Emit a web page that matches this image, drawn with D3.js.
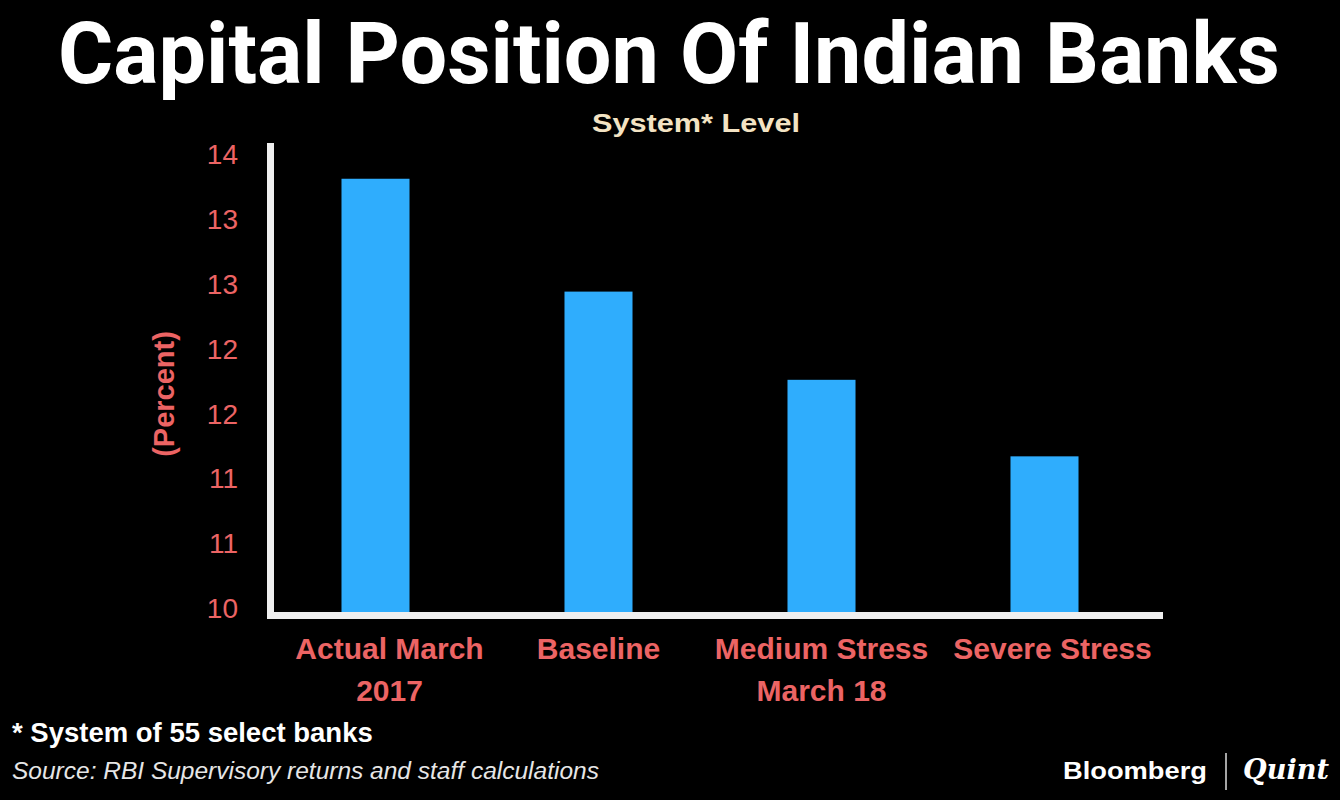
<!DOCTYPE html>
<html>
<head>
<meta charset="utf-8">
<script src="https://cdn.jsdelivr.net/npm/d3@7"></script>
<style>
  html, body { margin: 0; padding: 0; background: #000; }
  svg { display: block; }
</style>
</head>
<body>
<svg id="chart" width="1340" height="800"></svg>
<script>
// ---- Data ----
const categories = ["Actual March 2017", "Baseline", "Medium Stress March 18", "Severe Stress"];
const categoryLines = [["Actual March", "2017"], ["Baseline"], ["Medium Stress", "March 18"], ["Severe Stress"]];
const values = [13.34, 12.47, 11.79, 11.2];
const tickValues = [10, 10.5, 11, 11.5, 12, 12.5, 13, 13.5];
const tickLabels = ["10", "11", "11", "12", "12", "13", "13", "14"];

const titleText = "Capital Position Of Indian Banks";
const subtitleText = "System* Level";
const yTitle = "(Percent)";
const footnote = "* System of 55 select banks";
const sourceText = "Source: RBI Supervisory returns and staff calculations";

// ---- Chart ----
const svg = d3.select("#chart");
const W = 1340, H = 800;
svg.append("rect").attr("width", W).attr("height", H).attr("fill", "#000");

const x = d3.scaleBand().domain(categories).range([264, 1156])
  .paddingInner(0.695).paddingOuter(0.3475);
const y = d3.scaleLinear().domain([10, 13.5]).range([612, 158]);

// Title
svg.append("text")
  .attr("x", 58).attr("y", 83)
  .attr("textLength", 1222).attr("lengthAdjust", "spacingAndGlyphs")
  .attr("font-family", "Roboto, 'Liberation Sans', sans-serif")
  .attr("font-weight", 700).attr("font-size", 86)
  .attr("fill", "#fff").text(titleText);

// Subtitle
svg.append("text")
  .attr("x", 592).attr("y", 132)
  .attr("textLength", 208).attr("lengthAdjust", "spacingAndGlyphs")
  .attr("font-family", "'Liberation Sans', Arial, sans-serif")
  .attr("font-weight", 700).attr("font-size", 26)
  .attr("fill", "#f3e3c3").text(subtitleText);

// Bars
svg.append("g").selectAll("rect").data(values).join("rect")
  .attr("x", (d, i) => x(categories[i]))
  .attr("width", x.bandwidth())
  .attr("y", d => y(d))
  .attr("height", d => y(10) - y(d))
  .attr("fill", "#2fadfd");

// Y axis (labels only)
const yAxis = d3.axisLeft(y).tickValues(tickValues)
  .tickFormat((d, i) => tickLabels[i]).tickSize(0).tickPadding(0);
const gy = svg.append("g").attr("transform", "translate(238,0)").call(yAxis);
gy.select(".domain").remove();
gy.selectAll("text")
  .attr("font-family", "'Liberation Sans', Arial, sans-serif")
  .attr("font-size", 28).attr("fill", "#ec6464").attr("dy", "0.2em");

// Axis lines
svg.append("line")
  .attr("x1", 270.5).attr("x2", 270.5).attr("y1", 143).attr("y2", 619)
  .attr("stroke", "#efefef").attr("stroke-width", 7);
svg.append("line")
  .attr("x1", 267).attr("x2", 1163).attr("y1", y(10) + 3.5).attr("y2", y(10) + 3.5)
  .attr("stroke", "#efefef").attr("stroke-width", 7);

// X labels
const xl = svg.append("g").selectAll("text").data(categories).join("text")
  .attr("x", d => x(d) + x.bandwidth() / 2)
  .attr("y", 659)
  .attr("text-anchor", "middle")
  .attr("font-family", "'Liberation Sans', Arial, sans-serif")
  .attr("font-weight", 700).attr("font-size", 30)
  .attr("fill", "#ec6464");
xl.each(function(d, i) {
  const t = d3.select(this);
  categoryLines[i].forEach((line, j) => {
    t.append("tspan").attr("x", x(d) + x.bandwidth() / 2 + (i === 0 ? 14 : i === 3 ? 8 : 0))
      .attr("dy", j === 0 ? 0 : 42).text(line);
  });
});

// Y title
svg.append("text")
  .attr("transform", "translate(174,394) rotate(-90)")
  .attr("text-anchor", "middle")
  .attr("font-family", "'Liberation Sans', Arial, sans-serif")
  .attr("font-weight", 700).attr("font-size", 29)
  .attr("fill", "#ec6464").text(yTitle);

// Footnotes
svg.append("text").attr("x", 12).attr("y", 742)
  .attr("font-family", "'Liberation Sans', Arial, sans-serif")
  .attr("font-weight", 700).attr("font-size", 27.5)
  .attr("fill", "#fff").text(footnote);
svg.append("text").attr("x", 12).attr("y", 779)
  .attr("font-family", "'Liberation Sans', Arial, sans-serif")
  .attr("font-style", "italic").attr("font-size", 24.5)
  .attr("fill", "#e6e6e6").text(sourceText);

// Logo
svg.append("text").attr("x", 1063).attr("y", 779)
  .attr("textLength", 144).attr("lengthAdjust", "spacingAndGlyphs")
  .attr("font-family", "'Liberation Sans', Arial, sans-serif")
  .attr("font-weight", 700).attr("font-size", 24)
  .attr("fill", "#fff").text("Bloomberg");
svg.append("line").attr("x1", 1226).attr("x2", 1226).attr("y1", 753).attr("y2", 790)
  .attr("stroke", "#ddd").attr("stroke-width", 1.5);
svg.append("text").attr("x", 1243).attr("y", 779)
  .attr("textLength", 86).attr("lengthAdjust", "spacingAndGlyphs")
  .attr("font-family", "'DejaVu Serif', 'Liberation Serif', serif")
  .attr("font-style", "italic").attr("font-weight", 700).attr("font-size", 28)
  .attr("fill", "#fff").text("Quint");
</script>
</body>
</html>
